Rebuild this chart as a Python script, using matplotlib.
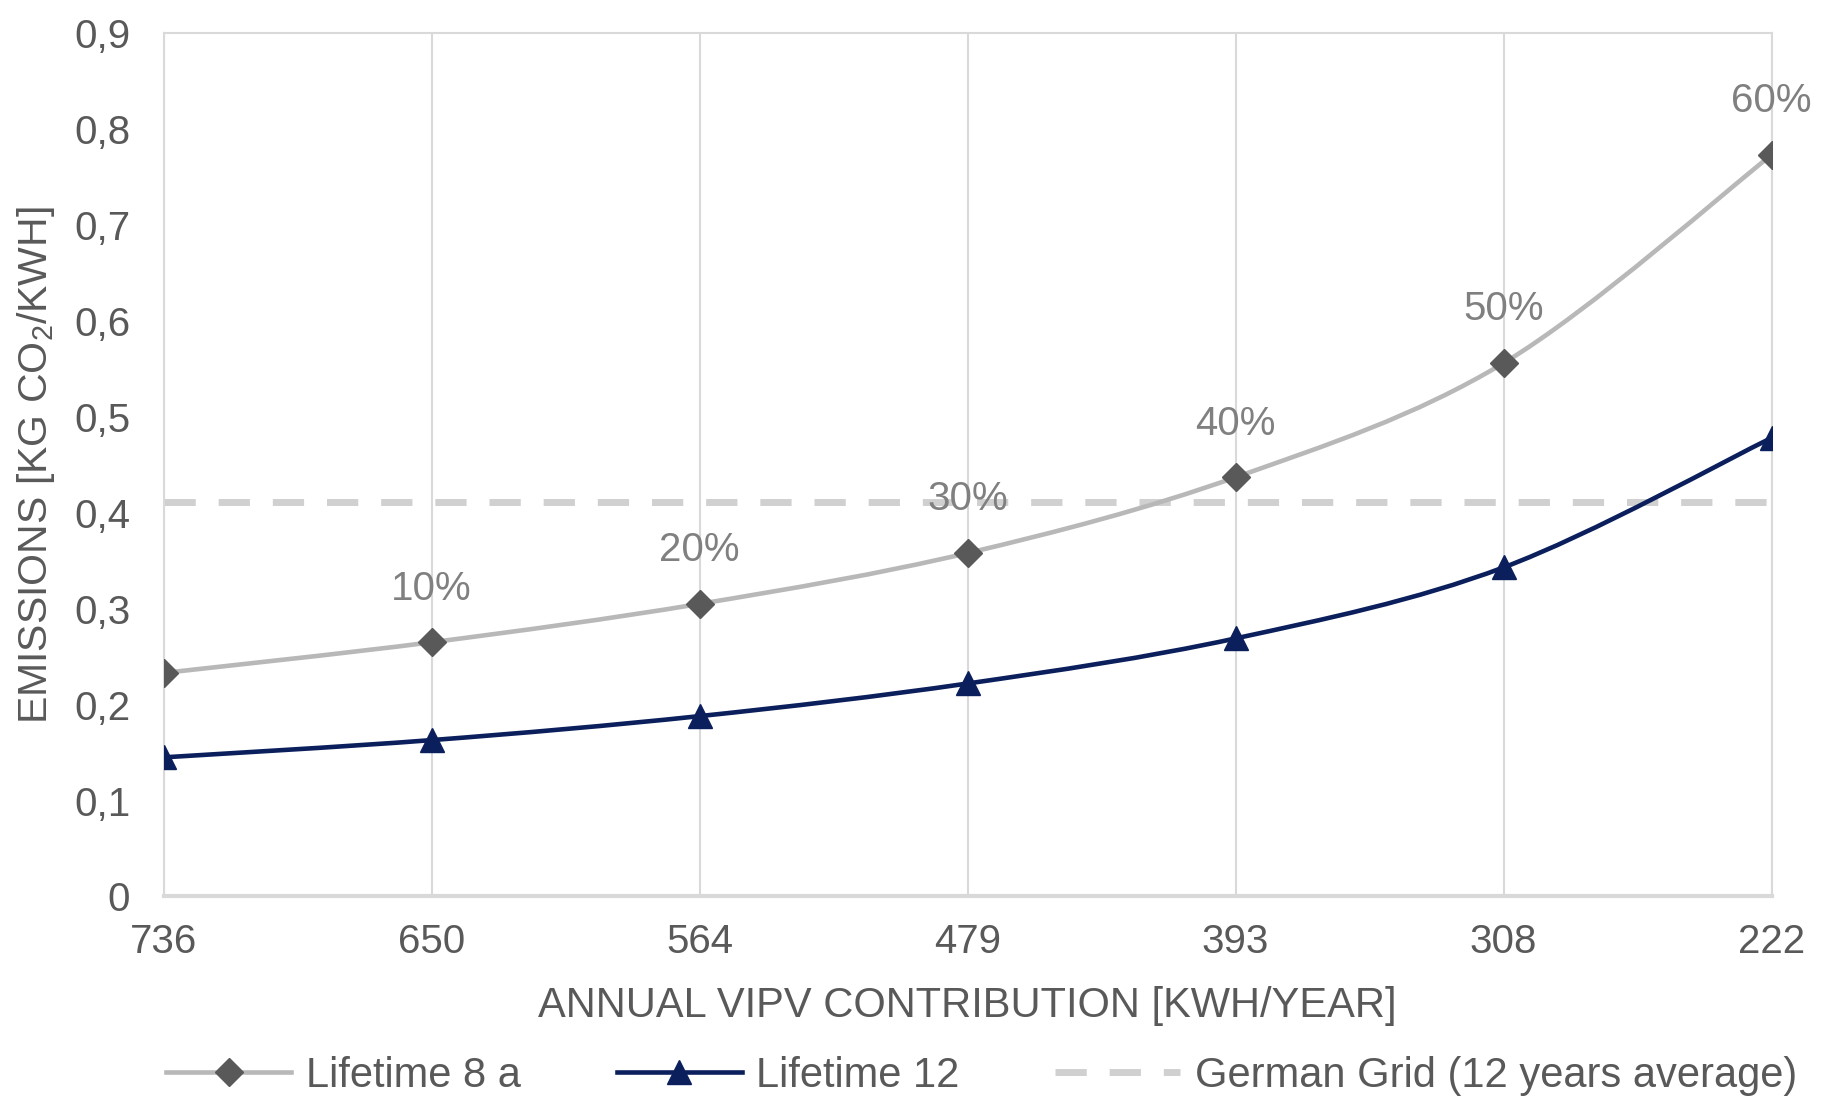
import matplotlib
matplotlib.use("Agg")
import matplotlib.pyplot as plt
from matplotlib.path import Path
from matplotlib.patches import PathPatch
from matplotlib.lines import Line2D

plt.rcParams['font.family'] = ['Liberation Sans', 'DejaVu Sans']
plt.rcParams['mathtext.default'] = 'regular'

# Data
contribution = ['736', '650', '564', '479', '393', '308', '222']
lifetime_8 = [0.233, 0.265, 0.305, 0.358, 0.437, 0.556, 0.773]
lifetime_12 = [0.145, 0.163, 0.188, 0.222, 0.269, 0.343, 0.478]
german_grid = 0.411
share_labels = ['', '10%', '20%', '30%', '40%', '50%', '60%']

text_col = '#595959'
grid_col = '#d9d9d9'


def smooth_path(xs, ys):
    # Catmull-Rom style smoothing drawn as cubic Bezier segments (like Excel's smoothed line)
    verts = [(xs[0], ys[0])]
    codes = [Path.MOVETO]
    n = len(xs)
    for i in range(n - 1):
        x0, y0 = (xs[i - 1], ys[i - 1]) if i > 0 else (xs[i], ys[i])
        x1, y1 = xs[i], ys[i]
        x2, y2 = xs[i + 1], ys[i + 1]
        x3, y3 = (xs[i + 2], ys[i + 2]) if i + 2 < n else (x2, y2)
        c1 = (x1 + (x2 - x0) / 6, y1 + (y2 - y0) / 6)
        c2 = (x2 - (x3 - x1) / 6, y2 - (y3 - y1) / 6)
        verts += [c1, c2, (x2, y2)]
        codes += [Path.CURVE4] * 3
    return Path(verts, codes)


fig = plt.figure(figsize=(18.25, 11.04), dpi=100)
ax = fig.add_axes([0.0897, 0.188, 0.881, 0.782])

x = list(range(len(contribution)))

ax.axhline(german_grid, color='#d0d0d0', lw=5, dashes=(4.5, 3.3), zorder=1)

ax.add_patch(PathPatch(smooth_path(x, lifetime_8), fill=False, edgecolor='#b8b8b8', lw=3.3, zorder=2))
ax.plot(x, lifetime_8, ls='none', marker='D', ms=14, color='#595959', zorder=3)

ax.add_patch(PathPatch(smooth_path(x, lifetime_12), fill=False, edgecolor='#0a1f5c', lw=3.3, zorder=2))
ax.plot(x, lifetime_12, ls='none', marker='^', ms=17, color='#0a1f5c', zorder=3)

for xi, yi, lab in zip(x, lifetime_8, share_labels):
    if lab:
        ax.annotate(lab, (xi, yi), xytext=(0, 25), textcoords='offset points',
                    ha='center', va='bottom', fontsize=29, color='#808080')

ax.set_xlim(0, len(contribution) - 1)
ax.set_ylim(0, 0.9)
ax.set_xticks(x)
ax.set_xticklabels(contribution)
yt = [i / 10 for i in range(10)]
ax.set_yticks(yt)
ax.set_yticklabels(['0'] + [f'0,{i}' for i in range(1, 10)])
ax.tick_params(axis='both', length=0, labelsize=29, labelcolor=text_col)
ax.tick_params(axis='x', pad=19)
ax.tick_params(axis='y', pad=24)

ax.grid(axis='x', color=grid_col, lw=1.5)
ax.set_axisbelow(True)
for side in ['top', 'left', 'right']:
    ax.spines[side].set_color(grid_col)
    ax.spines[side].set_linewidth(1.5)
ax.spines['bottom'].set_color(grid_col)
ax.spines['bottom'].set_linewidth(3)

ax.set_xlabel('ANNUAL VIPV CONTRIBUTION [KWH/YEAR]', fontsize=30, color=text_col, labelpad=18)
ax.set_ylabel('EMISSIONS [KG CO$_2$/KWH]', fontsize=29.5, color=text_col, labelpad=12)

handles = [
    Line2D([], [], color='#b8b8b8', lw=3.3, marker='D', ms=14, mfc='#595959', mec='#595959'),
    Line2D([], [], color='#0a1f5c', lw=3.3, marker='^', ms=17),
    Line2D([], [], color='#d0d0d0', lw=5, dashes=(4.5, 3.3)),
]
fig.legend(handles, ['Lifetime 8 a', 'Lifetime 12', 'German Grid (12 years average)'],
           loc='lower center', bbox_to_anchor=(0.538, -0.015), ncol=3, frameon=False,
           fontsize=30, labelcolor=text_col, handlelength=3.0, columnspacing=2.3,
           handletextpad=0.35, borderaxespad=0.2)

fig.savefig('out.png', dpi=100)
